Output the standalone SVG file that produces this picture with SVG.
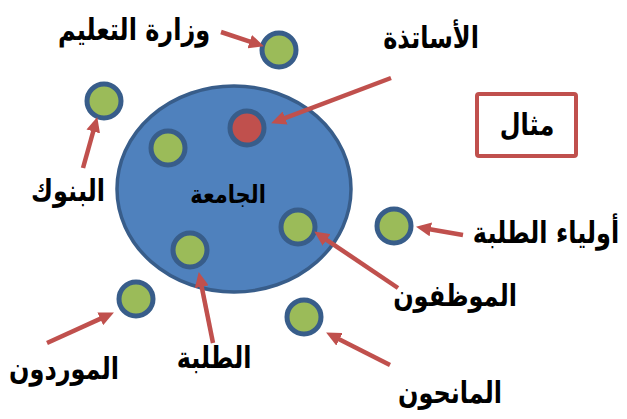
<svg xmlns="http://www.w3.org/2000/svg" width="627" height="419" viewBox="0 0 627 419">
  <style>
    .dot { fill: #9BBB59; stroke: #385D8A; stroke-width: 5; }
    .dot-red { fill: #C0504D; stroke: #385D8A; stroke-width: 5; }
    .lbl { font-family: "DejaVu Sans", "Noto Sans", sans-serif; font-weight: bold; font-size: 24px; fill: #000; text-anchor: middle; }
    .arrow { stroke: #C0504D; stroke-width: 4.5; fill: none; marker-end: url(#head); }
  </style>
  <defs>
    <marker id="head" markerUnits="userSpaceOnUse" markerWidth="15" markerHeight="14" refX="1" refY="7" orient="auto">
      <path d="M0,0 L15,7 L0,14 z" fill="#C0504D"/>
    </marker>
  </defs>
  <rect width="627" height="419" fill="#fff"/>

  <g id="university">
    <ellipse cx="234" cy="189" rx="117" ry="103" fill="#4F81BD" stroke="#385D8A" stroke-width="3.5"/>
    <text class="lbl" transform="translate(228,203) scale(1,1.2)" style="font-size:21px">الجامعة</text>
  </g>

  <g id="teachers"><circle class="dot-red" cx="247" cy="128" r="17"/></g>
  <g id="inner-node"><circle class="dot" cx="168" cy="148" r="17"/></g>
  <g id="students"><circle class="dot" cx="190" cy="250" r="17"/></g>
  <g id="staff"><circle class="dot" cx="298" cy="227" r="17"/></g>
  <g id="ministry"><circle class="dot" cx="279" cy="50" r="17"/></g>
  <g id="banks"><circle class="dot" cx="104" cy="101" r="17"/></g>
  <g id="parents"><circle class="dot" cx="394" cy="226" r="17"/></g>
  <g id="donors"><circle class="dot" cx="304" cy="317" r="17"/></g>
  <g id="suppliers"><circle class="dot" cx="136" cy="299" r="17"/></g>

  <g id="example">
    <rect x="477" y="94" width="99" height="62" rx="2" fill="#fff" stroke="#C0504D" stroke-width="4"/>
    <text class="lbl" transform="translate(527,135) scale(1,1.25)">مثال</text>
  </g>

  <g id="connectors">
    <line class="arrow" x1="221" y1="32" x2="250.7" y2="41.9"/>
    <line class="arrow" x1="391" y1="78" x2="284.2" y2="118.4"/>
    <line class="arrow" x1="83" y1="168" x2="93.5" y2="130.5"/>
    <line class="arrow" x1="463" y1="235" x2="429.8" y2="229.2"/>
    <line class="arrow" x1="398" y1="288" x2="325.8" y2="239.3"/>
    <line class="arrow" x1="390" y1="365" x2="338.6" y2="338.9"/>
    <line class="arrow" x1="47" y1="343" x2="101.2" y2="318.4"/>
    <line class="arrow" x1="213" y1="343" x2="201.5" y2="285.7"/>
  </g>

  <g id="labels">
    <text class="lbl" transform="translate(134,40) scale(1,1.25)">وزارة التعليم</text>
    <text class="lbl" transform="translate(431,48) scale(1,1.25)">الأساتذة</text>
    <text class="lbl" transform="translate(68,201) scale(1,1.25)">البنوك</text>
    <text class="lbl" transform="translate(546,243) scale(1,1.25)">أولياء الطلبة</text>
    <text class="lbl" transform="translate(455,306) scale(1,1.25)">الموظفون</text>
    <text class="lbl" transform="translate(450,403) scale(1,1.25)">المانحون</text>
    <text class="lbl" transform="translate(64,379) scale(1,1.25)">الموردون</text>
    <text class="lbl" transform="translate(214,368) scale(1,1.25)">الطلبة</text>
  </g>
</svg>
